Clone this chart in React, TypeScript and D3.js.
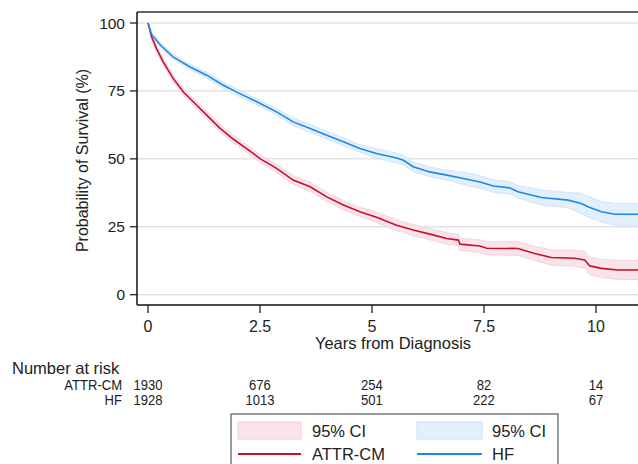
import * as d3 from "d3";
import React from "react";

// Kaplan-Meier estimates (years, % surviving)
const attrTime = [0, 0.08, 0.19, 0.34, 0.56, 0.79, 1.01, 1.31, 1.61, 1.9, 2.2, 2.5, 2.87, 3.24, 3.62, 3.99, 4.36, 4.73, 5.1, 5.55, 5.92, 6.29, 6.67, 6.93, 6.96, 7.41, 7.56, 8.26, 8.63, 9.0, 9.52, 9.75, 9.86, 10.12, 10.49, 11.0];
const attrSurv = [100, 94.9, 90.6, 85.7, 79.6, 74.6, 71.0, 66.1, 61.2, 57.3, 53.8, 50.1, 46.5, 42.2, 39.7, 36.0, 33.0, 30.5, 28.5, 25.6, 23.8, 22.3, 20.7, 20.1, 18.6, 17.9, 17.1, 17.0, 15.2, 13.7, 13.4, 12.8, 10.6, 9.7, 9.1, 9.1];
const attrLow = [100, 93.8, 89.4, 84.5, 78.4, 73.4, 69.7, 64.7, 59.8, 55.9, 52.4, 48.7, 45.0, 40.6, 38.0, 34.3, 31.3, 28.8, 26.6, 23.6, 21.8, 20.2, 18.6, 18.0, 16.4, 15.6, 14.7, 14.5, 12.6, 10.9, 10.4, 9.7, 7.4, 6.4, 5.6, 5.6];
const attrHigh = [100, 96.0, 91.8, 86.9, 80.8, 75.8, 72.3, 67.5, 62.6, 58.7, 55.2, 51.5, 48.0, 43.8, 41.4, 37.7, 34.7, 32.2, 30.4, 27.6, 25.8, 24.4, 22.8, 22.2, 20.8, 20.2, 19.5, 19.5, 17.8, 16.5, 16.4, 15.9, 13.8, 13.0, 12.6, 12.6];

const hfTime = [0, 0.08, 0.27, 0.56, 0.94, 1.31, 1.68, 2.05, 2.43, 2.87, 3.24, 3.62, 3.99, 4.36, 4.73, 5.1, 5.55, 5.7, 5.92, 6.29, 6.67, 7.04, 7.41, 7.71, 8.08, 8.26, 8.78, 9.38, 9.67, 9.82, 10.12, 10.42, 11.0];
const hfSurv = [100, 95.8, 92.0, 87.5, 83.8, 80.8, 77.1, 74.0, 71.0, 67.3, 63.6, 61.2, 58.7, 56.3, 53.8, 52.0, 50.3, 49.5, 47.1, 45.2, 44.0, 42.8, 41.5, 40.0, 39.3, 37.9, 35.8, 34.8, 33.6, 32.4, 30.5, 29.6, 29.6];
const hfLow = [100, 94.9, 91.1, 86.6, 82.9, 79.7, 76.0, 72.9, 69.9, 66.2, 62.2, 59.8, 57.3, 54.9, 52.4, 50.2, 48.5, 47.7, 45.3, 43.4, 42.2, 40.5, 39.2, 37.7, 37.0, 35.6, 33.0, 32.0, 29.8, 28.6, 26.7, 25.6, 25.6];
const hfHigh = [100, 96.7, 92.9, 88.4, 84.7, 81.9, 78.2, 75.1, 72.1, 68.4, 65.0, 62.6, 60.1, 57.7, 55.2, 53.8, 52.1, 51.3, 48.9, 47.0, 45.8, 45.1, 43.8, 42.3, 41.6, 40.2, 38.6, 37.6, 37.4, 36.2, 34.3, 33.6, 33.6];

const xTicks = [0, 2.5, 5, 7.5, 10];
const yTicks = [0, 25, 50, 75, 100];
const riskAttr = [1930, 676, 254, 82, 14];
const riskHf = [1928, 1013, 501, 222, 67];

const RED = "#c8102e";
const BLUE = "#1f87e8";
const FONT = "'Liberation Sans', Arial, sans-serif";

// narrow-ish text like the Stata risk table
const Narrow = ({ x, y, anchor, children }: { x: number; y: number; anchor: string; children: React.ReactNode }) => (
  <text transform={`translate(${x},${y}) scale(0.9,1)`} textAnchor={anchor} fontSize={14.5} fill="#222">
    {children}
  </text>
);

export default function App() {
  const left = 137;
  const top = 12;
  const axisY = 305;
  const plotRight = 660;

  const x = d3.scaleLinear().domain([0, 11]).range([148, 640.8]);
  const y = d3.scaleLinear().domain([0, 100]).range([294.7, 23]);

  const mkLine = (t: number[], v: number[]) =>
    d3.line<number>()
      .x((_, i) => x(t[i]))
      .y((d) => y(d))(v) || "";
  const mkArea = (t: number[], lo: number[], hi: number[]) =>
    d3.area<number>()
      .x((_, i) => x(t[i]))
      .y0((_, i) => y(lo[i]))
      .y1((_, i) => y(hi[i]))(t) || "";

  return (
    <svg width={638} height={464} style={{ position: "absolute", left: 0, top: 0, background: "#fff" }} fontFamily={FONT}>
      <defs>
        <clipPath id="plot">
          <rect x={left} y={top} width={plotRight - left} height={axisY - top} />
        </clipPath>
      </defs>

      {/* gridlines */}
      {yTicks.map((t) => (
        <line key={t} x1={left} x2={plotRight} y1={y(t)} y2={y(t)} stroke="#e3e3e3" strokeWidth={1.5} />
      ))}

      {/* confidence bands + curves */}
      <g clipPath="url(#plot)">
        <path d={mkArea(attrTime, attrLow, attrHigh)} fill="#fae3ea" stroke="#f2cbd8" strokeWidth={0.8} />
        <path d={mkArea(hfTime, hfLow, hfHigh)} fill="#e2effd" stroke="#c9e0fa" strokeWidth={0.8} />
        <path d={mkLine(attrTime, attrSurv)} fill="none" stroke={RED} strokeWidth={1.6} />
        <path d={mkLine(hfTime, hfSurv)} fill="none" stroke={BLUE} strokeWidth={1.6} />
      </g>

      {/* frame */}
      <line x1={left} x2={plotRight} y1={top} y2={top} stroke="#333" strokeWidth={1.5} />
      <line x1={left} x2={left} y1={top} y2={axisY} stroke="#111" strokeWidth={1.5} />
      <line x1={left} x2={plotRight} y1={axisY} y2={axisY} stroke="#111" strokeWidth={1.5} />

      {/* y axis */}
      {yTicks.map((t) => (
        <g key={t}>
          <line x1={left - 7} x2={left} y1={y(t)} y2={y(t)} stroke="#111" strokeWidth={1.2} />
          <text x={left - 12} y={y(t) + 5.5} textAnchor="end" fontSize={15.5} fill="#222">{t}</text>
        </g>
      ))}
      <text transform={`translate(88,${(top + axisY) / 2 + 2}) rotate(-90)`} textAnchor="middle" fontSize={16} fill="#222">
        Probability of Survival (%)
      </text>

      {/* x axis */}
      {xTicks.map((t) => (
        <g key={t}>
          <line x1={x(t)} x2={x(t)} y1={axisY} y2={axisY + 8} stroke="#111" strokeWidth={1.2} />
          <text x={x(t)} y={332} textAnchor="middle" fontSize={16} fill="#222">{t}</text>
        </g>
      ))}
      <text x={393} y={349} textAnchor="middle" fontSize={16.5} fill="#222">Years from Diagnosis</text>

      {/* number at risk */}
      <text x={12} y={374} fontSize={16.5} fill="#222">Number at risk</text>
      <Narrow x={122} y={390} anchor="end">ATTR-CM</Narrow>
      <Narrow x={122} y={405} anchor="end">HF</Narrow>
      {xTicks.map((t, i) => (
        <g key={t}>
          <Narrow x={x(t)} y={390} anchor="middle">{riskAttr[i]}</Narrow>
          <Narrow x={x(t)} y={405} anchor="middle">{riskHf[i]}</Narrow>
        </g>
      ))}

      {/* legend */}
      <rect x={231} y={414} width={327} height={60} fill="#fff" stroke="#555" strokeWidth={1.2} />
      <rect x={238} y={422} width={63} height={17} fill="#fae3ea" stroke="#f2cbd8" strokeWidth={1} />
      <text x={312} y={437} fontSize={16.5} fill="#222">95% CI</text>
      <rect x={417} y={422} width={65} height={17} fill="#e2effd" stroke="#c9e0fa" strokeWidth={1} />
      <text x={492} y={437} fontSize={16.5} fill="#222">95% CI</text>
      <line x1={238} x2={301} y1={454} y2={454} stroke={RED} strokeWidth={1.8} />
      <text x={312} y={460} fontSize={16.5} fill="#222">ATTR-CM</text>
      <line x1={417} x2={482} y1={454} y2={454} stroke={BLUE} strokeWidth={1.8} />
      <text x={492} y={460} fontSize={16.5} fill="#222">HF</text>
    </svg>
  );
}
